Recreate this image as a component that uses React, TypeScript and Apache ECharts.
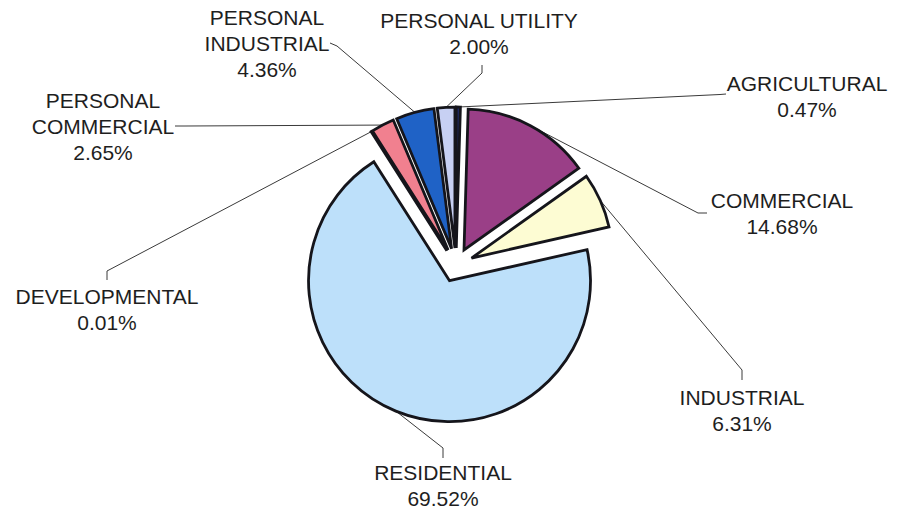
import React, { useEffect, useRef } from 'react';
import * as echarts from 'echarts';

// ---- data ----
const categories = [
  'AGRICULTURAL',
  'COMMERCIAL',
  'INDUSTRIAL',
  'RESIDENTIAL',
  'DEVELOPMENTAL',
  'PERSONAL COMMERCIAL',
  'PERSONAL INDUSTRIAL',
  'PERSONAL UTILITY',
];
const labelNames = [
  'AGRICULTURAL',
  'COMMERCIAL',
  'INDUSTRIAL',
  'RESIDENTIAL',
  'DEVELOPMENTAL',
  'PERSONAL\nCOMMERCIAL',
  'PERSONAL\nINDUSTRIAL',
  'PERSONAL UTILITY',
];
const shares = [0.47, 14.68, 6.31, 69.52, 0.01, 2.65, 4.36, 2.0];

// ---- styles / layout ----
const sliceColors = ['#1f2b6a', '#9a3f87', '#fdfcd3', '#bde0fa', '#bde0fa', '#f1808f', '#1f62c6', '#c7d0f3'];
const pieCenter = [456, 265];
const pieRadius = 141;
const explode = 17;
const labelCenters = [
  [807, 96],
  [782, 213],
  [742, 410],
  [443, 485],
  [107, 309],
  [103, 126],
  [267, 43],
  [479, 33],
];
const leaderElbows = [
  [720, 94.5],
  [698, 213],
  [742, 370],
  [443, 448],
  [107, 271],
  [185, 126],
  [337, 46],
  [482, 73],
];
const leaderEnds = [
  [726, 94],
  [707, 213],
  [742, 380],
  [443, 458],
  [107, 280],
  [175, 126],
  [330, 43],
  [482, 65],
];

export default function App() {
  const ref = useRef<HTMLDivElement>(null);
  useEffect(() => {
    if (!ref.current) return;
    const chart = echarts.init(ref.current, undefined, { renderer: 'svg' });
    const total = shares.reduce((a, b) => a + b, 0);
    let acc = 0;
    const series = shares.map((v, i) => {
      const start = acc / total;
      acc += v;
      const mid = (start + v / total / 2) * Math.PI * 2;
      const cx = pieCenter[0] + explode * Math.sin(mid);
      const cy = pieCenter[1] - explode * Math.cos(mid);
      return {
        type: 'pie',
        silent: true,
        center: [cx, cy],
        radius: pieRadius,
        startAngle: 90,
        clockwise: true,
        avoidLabelOverlap: false,
        z: 2,
        label: {
          show: true,
          position: 'outside',
          color: '#1e1e1e',
          fontFamily: '"Liberation Sans", Arial, sans-serif',
          fontSize: 21,
          lineHeight: 26,
          align: 'center',
          formatter: (p: any) => `${labelNames[p.dataIndex]}\n${shares[p.dataIndex].toFixed(2)}%`,
        },
        labelLine: {
          show: true,
          lineStyle: { color: '#3a3a3a', width: 1 },
        },
        labelLayout: (params: any) => {
          const k = params.dataIndex;
          if (k !== i) return {};
          const a = params.labelLinePoints ? params.labelLinePoints[0] : leaderElbows[k];
          return {
            x: labelCenters[k][0],
            y: labelCenters[k][1],
            align: 'center',
            verticalAlign: 'middle',
            labelLinePoints: [a, leaderElbows[k], leaderEnds[k]],
          };
        },
        data: shares.map((val, j) => ({
          name: categories[j],
          value: val,
          itemStyle:
            j === i
              ? { color: sliceColors[j], borderColor: '#15151b', borderWidth: 2.8, borderJoin: 'miter' }
              : { color: 'rgba(0,0,0,0)', borderWidth: 0 },
          label: { show: j === i },
          labelLine: { show: j === i },
        })),
      };
    });
    chart.setOption({
      animation: false,
      backgroundColor: '#ffffff',
      series,
    } as any);
    return () => chart.dispose();
  }, []);
  return (
    <div
      ref={ref}
      style={{ position: 'absolute', left: 0, top: 0, width: 903, height: 511, background: '#fff' }}
    />
  );
}
